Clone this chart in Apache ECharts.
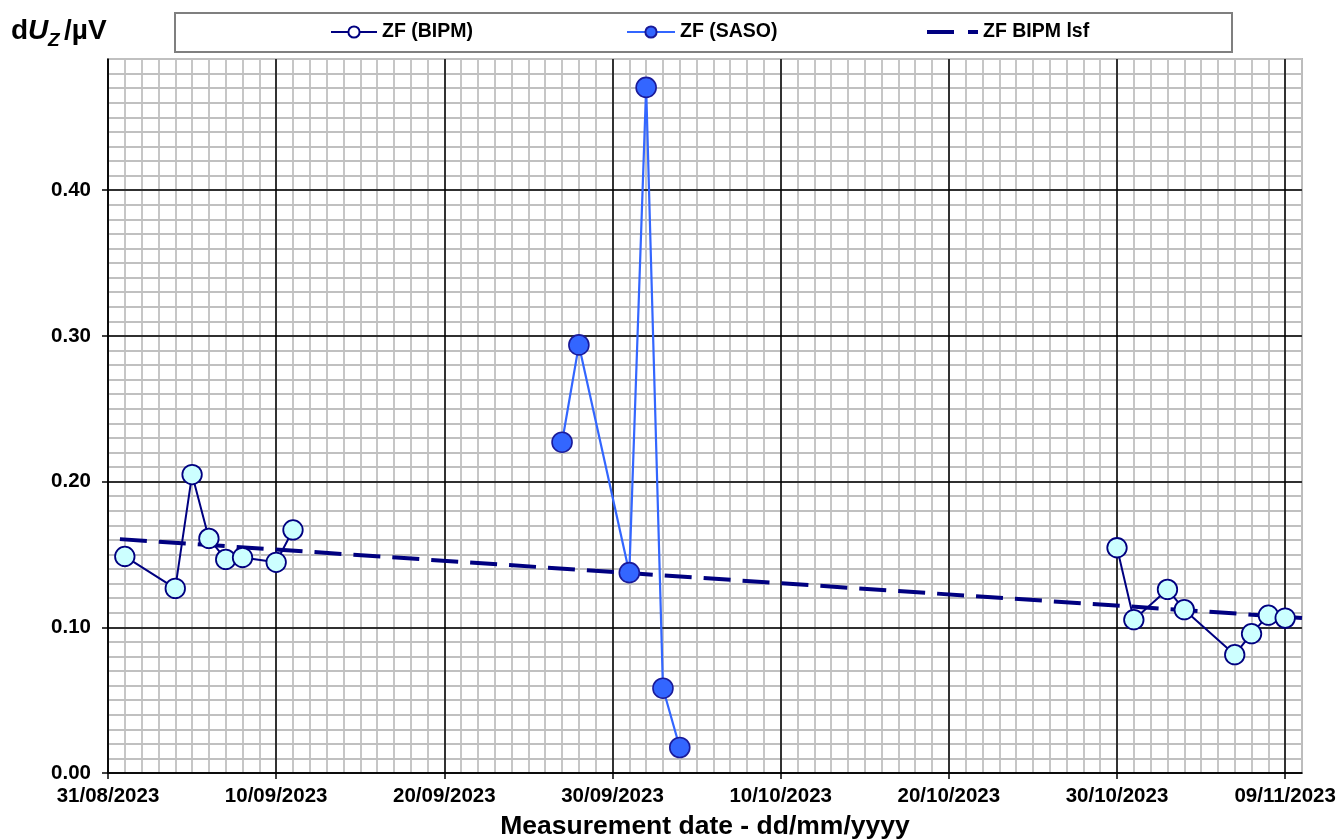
<!DOCTYPE html>
<html>
<head>
<meta charset="utf-8">
<script src="https://cdn.jsdelivr.net/npm/echarts@6/dist/echarts.min.js"></script>
<style>
  html, body { margin: 0; padding: 0; background: #fff; }
  #chart { width: 1340px; height: 839px; }
</style>
</head>
<body>
<div id="chart"></div>
<script>
// data
const bipmDates = ['01/09/2023', '04/09/2023', '05/09/2023', '06/09/2023', '07/09/2023', '08/09/2023',
  '10/09/2023', '11/09/2023', '30/10/2023', '31/10/2023', '02/11/2023', '03/11/2023',
  '06/11/2023', '07/11/2023', '08/11/2023', '09/11/2023'];
const bipmValues = [0.1486, 0.1267, 0.2048, 0.1610, 0.1466, 0.1479,
  0.1446, 0.1668, 0.1546, 0.1052, 0.1260, 0.1121,
  0.0812, 0.0956, 0.1083, 0.1063];

const sasoDates = ['27/09/2023', '28/09/2023', '01/10/2023', '02/10/2023', '03/10/2023', '04/10/2023'];
const sasoValues = [0.2270, 0.2938, 0.1375, 0.4705, 0.0582, 0.0175];

const lsfDates = ['31/08/2023 17:00', '10/11/2023 00:00'];
const lsfValues = [0.1605, 0.1064];

const tickDates = ['31/08/2023', '10/09/2023', '20/09/2023', '30/09/2023', '10/10/2023',
  '20/10/2023', '30/10/2023', '09/11/2023'];
const yTicks = [0, 0.1, 0.2, 0.3, 0.4];

const FONT = '"Liberation Sans", Arial, sans-serif';
const t0 = Date.UTC(2023, 7, 31);

// days since 31/08/2023
function dayOf(s) {
  const parts = s.split(' ');
  const d = parts[0].split('/');
  let ms = Date.UTC(+d[2], +d[1] - 1, +d[0]);
  if (parts[1]) {
    const hm = parts[1].split(':');
    ms += (+hm[0] * 60 + +hm[1]) * 60000;
  }
  return (ms - t0) / 86400000;
}

// [day, value] pairs; with breakGaps a long gap between runs breaks the line
function pairs(dates, vals, breakGaps) {
  const out = [];
  dates.forEach((d, i) => {
    const x = dayOf(d);
    if (breakGaps && i > 0 && x - out[out.length - 1][0] > 10) {
      out.push([(x + out[out.length - 1][0]) / 2, '-']);
    }
    out.push([x, vals[i]]);
  });
  return out;
}

const xTickDays = tickDates.map(dayOf);
const xMax = 71;
const yMax = 0.49;

const chart = echarts.init(document.getElementById('chart'));

const legendText = { fontFamily: FONT, fontWeight: 'bold', fontSize: 19.5, color: '#000' };

chart.setOption({
  animation: false,
  backgroundColor: '#fff',
  grid: {
    left: 108, right: 38, top: 59, bottom: 66,
    outerBoundsMode: 'none',
    show: true, borderColor: '#808080', borderWidth: 1.5
  },
  graphic: [
    { type: 'rect', shape: { x: 175, y: 13, width: 1057, height: 39 },
      style: { fill: '#fff', stroke: '#7f7f7f', lineWidth: 2 }, z: 0 },
    { type: 'text', x: 11, y: 31, style: { text: 'd', font: 'bold 28px ' + FONT, fill: '#000', verticalAlign: 'middle' } },
    { type: 'text', x: 28, y: 31, style: { text: 'U', font: 'italic bold 28px ' + FONT, fill: '#000', verticalAlign: 'middle' } },
    { type: 'text', x: 48, y: 41, style: { text: 'Z', font: 'italic bold 19px ' + FONT, fill: '#000', verticalAlign: 'middle' } },
    { type: 'text', x: 64, y: 31, style: { text: '/µV', font: 'bold 28px ' + FONT, fill: '#000', verticalAlign: 'middle' } }
  ],
  legend: [
    { data: ['ZF (BIPM)'], left: 330, top: 22, padding: 0, itemWidth: 46, itemHeight: 14,
      itemStyle: { color: '#ffffff' }, textStyle: legendText, z: 3 },
    { data: ['ZF (SASO)'], left: 626, top: 22, padding: 0, itemWidth: 48, itemHeight: 14,
      textStyle: legendText, z: 3 },
    { data: [{ name: 'ZF BIPM lsf', icon: 'path://M0,0H27V4H0Z M41,0H51V4H41Z' }],
      left: 927, top: 22, padding: 0, itemWidth: 51, itemHeight: 4, itemGap: 4,
      textStyle: legendText, z: 3 }
  ],
  xAxis: [
    { // daily minor grid
      type: 'value', min: 0, max: xMax, interval: 1, position: 'bottom',
      axisLine: { show: false }, axisTick: { show: false }, axisLabel: { show: false },
      splitLine: { show: true, lineStyle: { color: '#c0c0c0', width: 1.8 } }
    },
    { // 10-day major grid and labels
      type: 'value', min: 0, max: xMax, interval: 10, position: 'bottom', z: 1,
      axisLine: { show: true, onZero: false, lineStyle: { color: '#000', width: 1.5 } },
      axisTick: { show: true, length: 6, customValues: xTickDays, lineStyle: { color: '#000', width: 1.5 } },
      axisLabel: {
        customValues: xTickDays, margin: 13,
        fontFamily: FONT, fontWeight: 'bold', fontSize: 20.5, color: '#000',
        formatter: v => tickDates[xTickDays.indexOf(v)] || ''
      },
      splitLine: { show: true, lineStyle: { color: '#000', width: 1.5 } },
      name: 'Measurement date - dd/mm/yyyy', nameLocation: 'middle', nameGap: 40,
      nameTextStyle: { fontFamily: FONT, fontWeight: 'bold', fontSize: 26.5, color: '#000' }
    }
  ],
  yAxis: [
    { // 0.01 minor grid
      type: 'value', min: 0, max: yMax, interval: 0.01, position: 'left',
      axisLine: { show: false }, axisTick: { show: false }, axisLabel: { show: false },
      splitLine: { show: true, lineStyle: { color: '#c0c0c0', width: 1.8 } }
    },
    { // 0.1 major grid and labels
      type: 'value', min: 0, max: yMax, interval: 0.1, position: 'left', z: 1,
      axisLine: { show: true, onZero: false, lineStyle: { color: '#000', width: 1.5 } },
      axisTick: { show: true, length: 6, customValues: yTicks, lineStyle: { color: '#000', width: 1.5 } },
      axisLabel: {
        customValues: yTicks, margin: 17,
        fontFamily: FONT, fontWeight: 'bold', fontSize: 20.5, color: '#000',
        formatter: v => v.toFixed(2)
      },
      splitLine: { show: true, lineStyle: { color: '#000', width: 1.5 } }
    }
  ],
  series: [
    {
      name: 'ZF BIPM lsf', type: 'line', xAxisIndex: 0, yAxisIndex: 0, z: 3,
      data: pairs(lsfDates, lsfValues, false), symbol: 'none',
      lineStyle: { color: '#000080', width: 4, type: [27, 12] },
      itemStyle: { color: '#000080' }
    },
    {
      name: 'ZF (BIPM)', type: 'line', xAxisIndex: 0, yAxisIndex: 0, z: 4,
      data: pairs(bipmDates, bipmValues, true), symbol: 'circle', symbolSize: 19.5,
      connectNulls: false,
      lineStyle: { color: '#000080', width: 2 },
      itemStyle: { color: '#ccffff', borderColor: '#000080', borderWidth: 1.8 }
    },
    {
      name: 'ZF (SASO)', type: 'line', xAxisIndex: 0, yAxisIndex: 0, z: 4,
      data: pairs(sasoDates, sasoValues, false), symbol: 'circle', symbolSize: 20,
      lineStyle: { color: '#3366ff', width: 2.2 },
      itemStyle: { color: '#3366ff', borderColor: '#1a1a99', borderWidth: 1.6 }
    }
  ]
});
</script>
</body>
</html>
